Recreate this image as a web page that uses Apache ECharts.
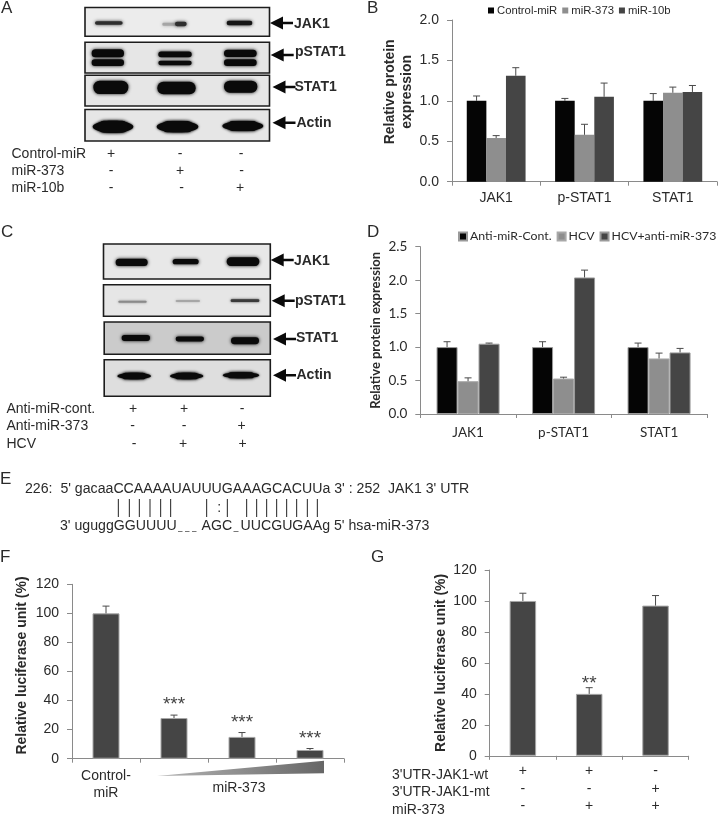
<!DOCTYPE html>
<html>
<head>
<meta charset="utf-8">
<style>
html,body{margin:0;padding:0;background:#fff}
#c{width:720px;height:815px;filter:blur(0.35px)}
</style>
<script src="https://cdn.jsdelivr.net/npm/echarts@6/dist/echarts.min.js"></script>
</head>
<body>
<div id="c"></div>
<script>
// ---- data ----
const bCategories = ['JAK1', 'p-STAT1', 'STAT1'];
const bControl = [1.0, 1.0, 1.0];
const bMiR373 = [0.54, 0.58, 1.10];
const bMiR10b = [1.31, 1.05, 1.11];
const bControlErr = [1.06, 1.03, 1.09];
const bMiR373Err = [0.57, 0.71, 1.17];
const bMiR10bErr = [1.41, 1.22, 1.19];

const dCategories = ['JAK1', 'p-STAT1', 'STAT1'];
const dAnti = [1.0, 1.0, 1.0];
const dHcv = [0.49, 0.53, 0.83];
const dHcvAnti = [1.05, 2.04, 0.92];
const dAntiErr = [1.08, 1.08, 1.06];
const dHcvErr = [0.54, 0.55, 0.91];
const dHcvAntiErr = [1.06, 2.15, 0.98];

const fCategories = ['Control-\nmiR', '', '', ''];
const fValues = [100, 28, 15, 6];
const fErr = [105, 30, 18, 7];
const fStars = ['', '***', '***', '***'];

const gCategories = ['+\n-\n-', '+\n-\n+', '-\n+\n+'];
const gValues = [100, 40, 97];
const gErr = [105, 44, 103.5];
const gStars = ['', '**', ''];

const sans = '"Liberation Sans", Arial, sans-serif';
const cal = 'Lato, "Open Sans", sans-serif';
const ink = '#2a2a2a';
const axisGrey = '#8a8a8a';
const black = '#050505', midGrey = '#8e8e8e', darkGrey = '#454545';

const chart = echarts.init(document.getElementById('c'), null, {renderer: 'canvas', width: 720, height: 815});

// ---- axes ----
const grids = [
  {left: 452, top: 20, width: 265, height: 161.7},
  {left: 420.3, top: 246.7, width: 286.5, height: 167.3},
  {left: 72, top: 584.3, width: 272, height: 174.4},
  {left: 489.7, top: 570, width: 199, height: 190.3}
];
function xAxis(i, cats, font, size, margin, extra) {
  return Object.assign({
    type: 'category', gridIndex: i, data: cats,
    axisLine: {lineStyle: {color: axisGrey, width: 1}},
    axisTick: {show: true, length: 4, lineStyle: {color: axisGrey}},
    axisLabel: {fontFamily: font, fontSize: size, color: ink, margin: margin, interval: 0}
  }, extra || {});
}
function yAxis(i, max, step, name, font, size, nameFont, nameSize, gap, lift) {
  return {
    type: 'value', gridIndex: i, min: 0, max: max, interval: step,
    name: name, nameLocation: 'middle', nameGap: gap, nameRotate: 90,
    nameTextStyle: {fontFamily: nameFont, fontSize: nameSize, fontWeight: 'bold', color: ink, lineHeight: 17, padding: [0, 0, 0, lift]},
    splitLine: {show: false},
    axisLine: {show: true, lineStyle: {color: axisGrey, width: 1}},
    axisTick: {show: true, length: 5, lineStyle: {color: axisGrey}},
    axisLabel: {fontFamily: font, fontSize: size, color: ink, margin: 13,
      formatter: v => max <= 3 ? v.toFixed(1) : String(v)}
  };
}

// ---- series helpers ----
function bar(i, name, values, color, barW, edge) {
  return {
    type: 'bar', name: name, xAxisIndex: i, yAxisIndex: i, data: values, barWidth: barW, barGap: 0,
    itemStyle: {color: color, borderColor: edge || color, borderWidth: edge ? 1 : 0},
    animation: false
  };
}
function errs(i, values, tops, offsetFrac, stars, starLift) {
  return {
    type: 'custom', xAxisIndex: i, yAxisIndex: i, silent: true, animation: false, clip: false,
    z: 5,
    data: values.map((v, k) => [k, v, tops[k]]),
    renderItem: function (params, api) {
      const k = api.value(0);
      const base = api.coord([k, api.value(1)]);
      const top = api.coord([k, api.value(2)]);
      const x = base[0] + offsetFrac;
      const kids = [
        {type: 'line', shape: {x1: x, y1: base[1], x2: x, y2: top[1]}, style: {stroke: '#4a4a4a', lineWidth: 1}},
        {type: 'line', shape: {x1: x - 3.5, y1: top[1], x2: x + 3.5, y2: top[1]}, style: {stroke: '#4a4a4a', lineWidth: 1}}
      ];
      if (stars && stars[k]) {
        kids.push({type: 'text', style: {text: stars[k], x: x, y: top[1] - starLift, align: 'center', verticalAlign: 'middle',
          font: '19px ' + sans, fill: '#444'}});
      }
      return {type: 'group', children: kids};
    }
  };
}

const bW = 19.6, dW = 21;
const series = [
  bar(0, 'Control-miR', bControl, black, bW),
  bar(0, 'miR-373', bMiR373, midGrey, bW),
  bar(0, 'miR-10b', bMiR10b, darkGrey, bW),
  errs(0, bControl, bControlErr, -bW),
  errs(0, bMiR373, bMiR373Err, 0),
  errs(0, bMiR10b, bMiR10bErr, bW),

  bar(1, 'Anti-miR-Cont.', dAnti, black, dW, '#9a9a9a'),
  bar(1, 'HCV', dHcv, midGrey, dW, '#a8a8a8'),
  bar(1, 'HCV+anti-miR-373', dHcvAnti, darkGrey, dW, '#9a9a9a'),
  errs(1, dAnti, dAntiErr, -dW),
  errs(1, dHcv, dHcvErr, 0),
  errs(1, dHcvAnti, dHcvAntiErr, dW),

  bar(2, 'F', fValues, darkGrey, 27, '#a6a6a6'),
  errs(2, fValues, fErr, 0, fStars, 10),
  bar(3, 'G', gValues, darkGrey, 26.5, '#a6a6a6'),
  errs(3, gValues, gErr, 0, gStars, 4)
];

// ---- blots, arrows, text (illustration) ----
const g = [];
const text = (t, x, y, font, opt) => g.push({
  type: 'text', x: x, y: y,
  style: Object.assign({text: t, font: font, fill: ink, verticalAlign: 'middle', align: 'left'}, opt || {})
});
function frame(x1, y1, x2, y2, bg) {
  g.push({type: 'rect', shape: {x: x1, y: y1, width: x2 - x1, height: y2 - y1},
    style: {fill: bg, stroke: '#1c1c1c', lineWidth: 1.6}});
}
// band in zoomed-crop coordinates (3x), offset vertically by oy
function band(oy, x1, x2, yc, h, color, blur) {
  const X1 = x1 / 3, X2 = x2 / 3, H = h / 3, Y = oy + yc / 3 - H / 2;
  g.push({type: 'rect', shape: {x: X1, y: Y, width: X2 - X1, height: H, r: H * 0.48},
    style: {fill: color || '#0a0a0a', shadowBlur: blur === undefined ? 3.5 : blur, shadowColor: color || '#0a0a0a'}});
}
// lens-shaped band with tapered ends, as the actin lanes
function lens(oy, x1, x2, yc, h) {
  const X1 = x1 / 3, X2 = x2 / 3, Y = oy + yc / 3;
  g.push({type: 'ellipse', shape: {cx: (X1 + X2) / 2, cy: Y, rx: (X2 - X1) / 2, ry: h / 6},
    style: {fill: '#0a0a0a', shadowBlur: 2.5, shadowColor: '#0a0a0a'}});
  band(oy, x1 + 16, x2 - 16, yc, h);
}
function arrow(tip, y) {
  g.push({type: 'polygon', shape: {points: [[tip, y], [tip + 13, y - 6.5], [tip + 13, y - 1.3], [tip + 23, y - 1.3], [tip + 23, y + 1.3], [tip + 13, y + 1.3], [tip + 13, y + 6.5]]},
    style: {fill: '#0a0a0a'}});
}
const boldLbl = 'bold 14px ' + sans, reg = '14px ' + sans;

// Panel A
frame(85, 7.5, 269.5, 36.3, '#ececec');
frame(85, 42.3, 269.5, 73, '#e6e6e6');
frame(85, 75.3, 269.5, 106, '#e6e6e6');
frame(85, 109.5, 269.5, 141, '#e6e6e6');
band(0, 285, 368, 69, 11, '#2e2e2e');
band(0, 487, 535, 73, 9, '#a5a5a5');
band(0, 525, 560, 72, 13, '#2e2e2e');
band(0, 680, 757, 69, 14, '#151515');
[[275, 372, 160, 24, 188, 20], [475, 575, 163, 17, 189, 13], [672, 770, 160, 22, 188, 20]].forEach(b => {
  band(0, b[0], b[1], b[2], b[3]); band(0, b[0], b[1], b[4], b[5]);
});
band(0, 280, 385, 262, 40); band(0, 472, 587, 264, 38); band(0, 672, 772, 260, 36);
lens(0, 278, 400, 380, 36); lens(0, 470, 595, 380, 34); lens(0, 667, 790, 378, 30);
arrow(270, 23); arrow(270.7, 55); arrow(272.5, 87); arrow(272.5, 122.7);
text('JAK1', 294, 24, boldLbl); text('pSTAT1', 295, 52, boldLbl); text('STAT1', 294.5, 87, boldLbl); text('Actin', 296.5, 123, boldLbl);
text('Control-miR', 11.5, 154, reg); text('miR-373', 11.5, 171, reg); text('miR-10b', 11.5, 188, reg);
const aMarks = [['+', '-', '-'], ['-', '+', '-'], ['-', '-', '+']];
const aXs = [[111, 180, 241], [111, 180, 241.5], [111, 181.5, 240]];
aMarks.forEach((row, r) => row.forEach((m, c) => text(m, aXs[r][c], 154 + r * 17, reg, {align: 'center'})));

// Panel C
frame(103.5, 244, 270.3, 279, '#e8e8e8');
frame(103.5, 284.7, 270.3, 316.3, '#e6e6e6');
frame(104.2, 322, 270.3, 354.3, '#cbcbcb');
frame(104.2, 359.7, 270.3, 396.3, '#dedede');
const oC = 215;
band(oC, 347, 443, 142, 22); band(oC, 518, 596, 140, 16); band(oC, 680, 778, 140, 26);
band(oC, 355, 440, 260, 6, '#8a8a8a', 2.5); band(oC, 527, 600, 258, 5, '#9c9c9c', 2.5); band(oC, 692, 778, 257, 8, '#3a3a3a', 2.5);
band(oC, 365, 450, 369, 18); band(oC, 527, 612, 372, 15); band(oC, 693, 777, 377, 21);
lens(oC, 352, 453, 483, 20); lens(oC, 510, 610, 483, 20); lens(oC, 668, 778, 481, 18);
arrow(270.7, 260); arrow(271.7, 300.7); arrow(273, 339); arrow(273, 375.3);
text('JAK1', 294, 261, boldLbl); text('pSTAT1', 295, 300.7, boldLbl); text('STAT1', 296, 338.5, boldLbl); text('Actin', 296.5, 375, boldLbl);
text('Anti-miR-cont.', 6.5, 409, reg); text('Anti-miR-373', 6.5, 426.5, reg); text('HCV', 6.5, 444, reg);
const cMarks = [['+', '+', '-'], ['-', '-', '+'], ['-', '+', '+']];
const cXs = [[133, 184, 242], [132.5, 184, 241.5], [134, 183, 242.5]];
cMarks.forEach((row, r) => row.forEach((m, c) => text(m, cXs[r][c], 409 + r * 17.5, reg, {align: 'center'})));

// Panel letters
const letter = '17px ' + sans;
text('A', 1, 8, letter); text('B', 367, 8, letter); text('C', 1, 232, letter); text('D', 367, 232, letter);
text('E', 0, 479, letter); text('F', 0, 557, letter); text('G', 371, 557, letter);

// Panel E
const seqFont = '14.15px ' + sans;
text("226:  5' gacaaCCAAAAUAUUUGAAAGCACUUa 3' : 252  JAK1 3' UTR", 25, 489.5, seqFont);
text("3' uguggGGUUUU", 60, 526.5, seqFont);
[178, 185, 192].forEach(x => g.push({type: 'line', shape: {x1: x, y1: 531.5, x2: x + 4.5, y2: 531.5}, style: {stroke: '#777', lineWidth: 1}}));
text('AGC', 201.5, 526.5, seqFont);
g.push({type: 'line', shape: {x1: 233.5, y1: 531.5, x2: 238.5, y2: 531.5}, style: {stroke: '#777', lineWidth: 1}});
text("UUCGUGAAg 5' hsa-miR-373", 240.5, 526.5, seqFont);
[355, 388, 418, 450, 482, 512, 620, 682, 740, 770, 800, 830, 860, 890, 922, 952].forEach(x => {
  g.push({type: 'line', shape: {x1: x / 3, y1: 499, x2: x / 3, y2: 517}, style: {stroke: '#222', lineWidth: 1}});
});
text(':', 219.3, 508, reg, {align: 'center'});

// Panel F extras
g.push({type: 'polygon', shape: {points: [[157, 776], [324, 760.7], [324, 773.3]]},
  style: {fill: {type: 'linear', x: 0, y: 0, x2: 1, y2: 0, colorStops: [{offset: 0, color: '#b5b5b5'}, {offset: 1, color: '#666'}]}}});
text('miR-373', 239, 788, reg, {align: 'center'});

// Panel G row labels
text("3'UTR-JAK1-wt", 392, 775, reg); text("3'UTR-JAK1-mt", 392, 792.5, reg); text('miR-373', 392, 810, reg);

const option = {
  animation: false,
  backgroundColor: '#fff',
  grid: grids,
  xAxis: [
    xAxis(0, bCategories, sans, 14, 9),
    xAxis(1, dCategories, cal, 13.5, 12),
    xAxis(2, fCategories, sans, 14, 10, {axisLabel: {fontFamily: sans, fontSize: 14, color: ink, margin: 9, lineHeight: 17, interval: 0}}),
    xAxis(3, gCategories, sans, 14, 7, {axisLabel: {fontFamily: sans, fontSize: 14, color: ink, margin: 7, lineHeight: 17.4, interval: 0}})
  ],
  yAxis: [
    yAxis(0, 2, 0.5, 'Relative protein\nexpression', sans, 14, sans, 14, 29, 18),
    yAxis(1, 2.5, 0.5, 'Relative protein expression', cal, 13.5, cal, 13, 35, 0),
    yAxis(2, 120, 20, 'Relative luciferase unit (%)', sans, 14, sans, 14, 41, 12),
    yAxis(3, 120, 20, 'Relative luciferase unit (%)', sans, 14, sans, 14, 39, 0)
  ],
  legend: [
    {data: ['Control-miR', 'miR-373', 'miR-10b'], left: 488, top: 5, width: 225, icon: 'rect', itemWidth: 6, itemHeight: 6, itemGap: 5, padding: 0,
      selectedMode: false, textStyle: {fontFamily: sans, fontSize: 11.3, color: ink, padding: [0, 0, 0, -2]}},
    {data: ['Anti-miR-Cont.', 'HCV', 'HCV+anti-miR-373'], left: 458, top: 230.5, width: 400, icon: 'rect', itemWidth: 8, itemHeight: 8, itemGap: 5, padding: 0,
      selectedMode: false, textStyle: {fontFamily: cal, fontSize: 12.3, color: ink, padding: [0, 0, 0, -2]}}
  ],
  series: series,
  graphic: {elements: g}
};
chart.setOption(option);
</script>
</body>
</html>
